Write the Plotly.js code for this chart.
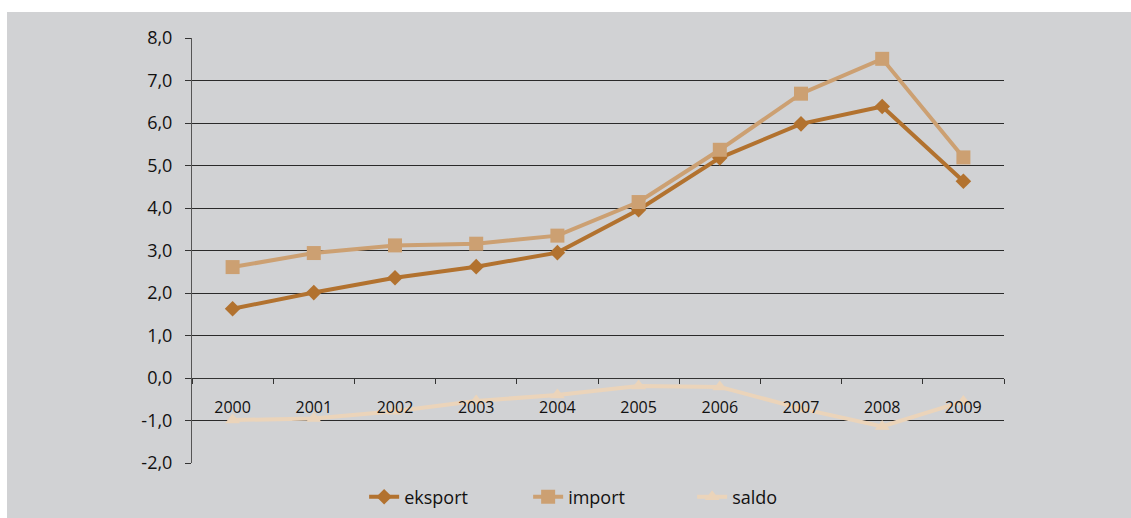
<!DOCTYPE html>
<html>
<head>
<meta charset="utf-8">
<script src="https://cdn.plot.ly/plotly-3.0.1.min.js"></script>
<style>
html,body{margin:0;padding:0;background:#ffffff;}
#chart{position:absolute;left:7px;top:12px;width:1124px;height:506px;}
</style>
</head>
<body>
<div id="chart"></div>
<script>
const years = ['2000','2001','2002','2003','2004','2005','2006','2007','2008','2009'];
const eksport = [1.63, 2.01, 2.36, 2.62, 2.95, 3.96, 5.18, 5.98, 6.39, 4.63];
const importV = [2.61, 2.94, 3.12, 3.16, 3.35, 4.14, 5.37, 6.69, 7.51, 5.19];
const saldo   = [-0.99, -0.95, -0.78, -0.54, -0.40, -0.19, -0.21, -0.72, -1.14, -0.55];
const seriesNames = ['eksport', 'import', 'saldo'];
const yTicks = [-2, -1, 0, 1, 2, 3, 4, 5, 6, 7, 8];
const yTickLabels = ['-2,0', '-1,0', '0,0', '1,0', '2,0', '3,0', '4,0', '5,0', '6,0', '7,0', '8,0'];

const colEks = '#B2722F';
const colImp = '#CCA072';
const colSal = '#EBD4BA';

const traces = [
  {x: years, y: eksport, name: seriesNames[0], type: 'scatter', mode: 'lines+markers',
   line: {color: colEks, width: 4}, marker: {symbol: 'diamond', size: 12, color: colEks}},
  {x: years, y: importV, name: seriesNames[1], type: 'scatter', mode: 'lines+markers',
   line: {color: colImp, width: 4}, marker: {symbol: 'square', size: 14, color: colImp}},
  {x: years, y: saldo, name: seriesNames[2], type: 'scatter', mode: 'lines+markers',
   line: {color: colSal, width: 4}, marker: {symbol: 'triangle-up', size: 13, color: colSal}}
];

const layout = {
  width: 1124, height: 506,
  paper_bgcolor: '#D1D2D4', plot_bgcolor: '#D1D2D4',
  margin: {l: 185, r: 127, t: 26, b: 55, autoexpand: false},
  font: {family: 'Open Sans, DejaVu Sans, sans-serif', size: 18, color: '#111'},
  separators: ',.',
  showlegend: true,
  legend: {orientation: 'h', x: 0.212, xanchor: 'left', y: -0.08, yanchor: 'middle',
           entrywidth: 119,
           font: {family: 'Open Sans, sans-serif', size: 18, color: '#111'},
           bgcolor: 'rgba(0,0,0,0)', traceorder: 'normal'},
  xaxis: {
    type: 'category', anchor: 'free', position: 0.2, range: [-0.5, 9.5],
    showline: true, linecolor: '#333', linewidth: 1,
    ticks: 'outside', ticklen: 5, tickcolor: '#333', tickson: 'boundaries',
    showgrid: false, zeroline: false, fixedrange: true,
    ticklabelstandoff: 15,
    tickfont: {family: 'Open Sans, sans-serif', size: 16, color: '#111'}
  },
  yaxis: {
    range: [-2, 8], tickmode: 'array', tickvals: yTicks, ticktext: yTickLabels,
    showline: true, linecolor: '#555', linewidth: 1,
    ticks: 'outside', ticklen: 6, tickcolor: '#333',
    showgrid: true, gridcolor: '#2a2a2a', gridwidth: 1,
    zeroline: false, ticklabelstandoff: 9,
    tickfont: {family: 'Open Sans, sans-serif', size: 18, color: '#111'}
  }
};

Plotly.newPlot('chart', traces, layout, {displayModeBar: false, staticPlot: true});
</script>
</body>
</html>
